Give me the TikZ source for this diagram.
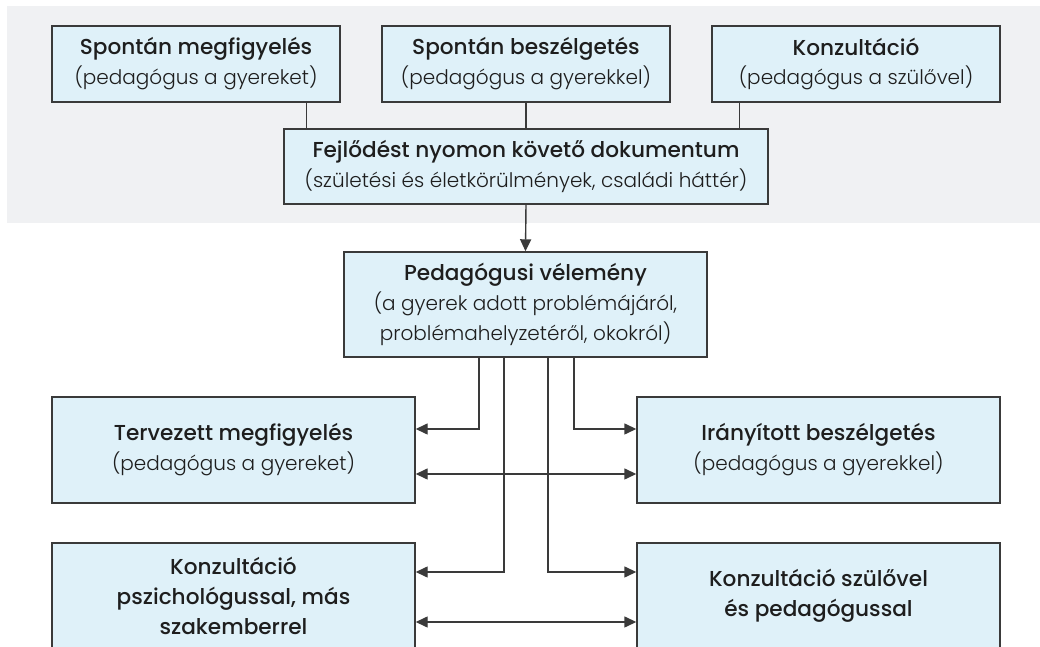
\documentclass[tikz,border=0pt]{standalone}
\usepackage{fontspec}
\setmainfont{Poppins Medium}
\newfontfamily\lightfont{Poppins Light}
\usetikzlibrary{arrows.meta,positioning}
\definecolor{boxfill}{HTML}{DFF1F9}
\definecolor{boxline}{HTML}{3A3A3A}
\definecolor{panel}{HTML}{F0F1F3}
\definecolor{ink}{HTML}{1E1E1E}
\newcommand{\subline}[1]{{\lightfont\fontsize{11.4}{17}\selectfont #1}}

\begin{document}
\begin{tikzpicture}[
  font=\fontsize{12.3}{17}\selectfont, >={Triangle[length=2.4mm,width=2.2mm]},
  box/.style={draw=boxline, line width=0.8pt, fill=boxfill, align=center, text=ink, inner sep=0pt, minimum width=5.76cm, minimum height=1.52cm},
  wide/.style={box, minimum width=7.26cm, minimum height=2.12cm},
  link/.style={draw=boxline, line width=0.8pt}]
\useasboundingbox (0,0) rectangle (20.8,-12.94);
\clip (0,0) rectangle (20.8,-12.94);
% ---- spontaneous half
\fill[panel] (0.14,-0.12) rectangle (20.8,-4.46);
\node[box] (spmeg) at (3.92,-1.28) {Spontán megfigyelés\\ \subline{(pedagógus a gyereket)}};
\node[box] (spbesz) at (10.52,-1.28) {Spontán beszélgetés\\ \subline{(pedagógus a gyerekkel)}};
\node[box] (konz) at (17.12,-1.28) {Konzultáció\\ \subline{(pedagógus a szülővel)}};
\node[box, minimum width=9.68cm, minimum height=1.5cm] (fejl) at (10.52,-3.33) {Fejlődést nyomon követő dokumentum\\ \subline{(születési és életkörülmények, családi háttér)}};
\coordinate (fejlA) at ([xshift=0.46cm]fejl.north west);
\coordinate (fejlB) at ([xshift=-0.58cm]fejl.north east);
\draw[link] (fejlA) -- (fejlA |- spmeg.south);
\draw[link] (fejl.north) -- (spbesz.south);
\draw[link] (fejlB) -- (fejlB |- konz.south);
% ---- planned half
\node[box, minimum width=7.26cm, minimum height=2.1cm] (pedv) at (10.51,-6.09) {Pedagógusi vélemény\\ \subline{(a gyerek adott problémájáról,}\\ \subline{problémahelyzetéről, okokról)}};
\draw[link, ->] (fejl.south) -- (pedv.north);
\node[wide] (tervm) at (4.67,-9.0) {Tervezett megfigyelés\\ \subline{(pedagógus a gyereket)}};
\node[wide] (iranyb) at (16.37,-9.0) {Irányított beszélgetés\\ \subline{(pedagógus a gyerekkel)}};
\node[wide] (konzpsz) at (4.67,-11.92) {Konzultáció\\ pszichológussal, más\\ szakemberrel};
\node[wide] (konzsz) at (16.37,-11.92) {Konzultáció szülővel\\ és pedagógussal};
\draw[link, ->] ([xshift=-0.93cm]pedv.south) |- ([yshift=0.42cm]tervm.east);
\draw[link, ->] ([xshift=0.97cm]pedv.south) |- ([yshift=0.42cm]iranyb.west);
\draw[link, <->] ([yshift=-0.48cm]tervm.east) -- ([yshift=-0.48cm]iranyb.west);
\draw[link, ->] ([xshift=-0.43cm]pedv.south) |- ([yshift=0.48cm]konzpsz.east);
\draw[link, ->] ([xshift=0.45cm]pedv.south) |- ([yshift=0.48cm]konzsz.west);
\draw[link, <->] ([yshift=-0.52cm]konzpsz.east) -- ([yshift=-0.52cm]konzsz.west);
\end{tikzpicture}
\end{document}
